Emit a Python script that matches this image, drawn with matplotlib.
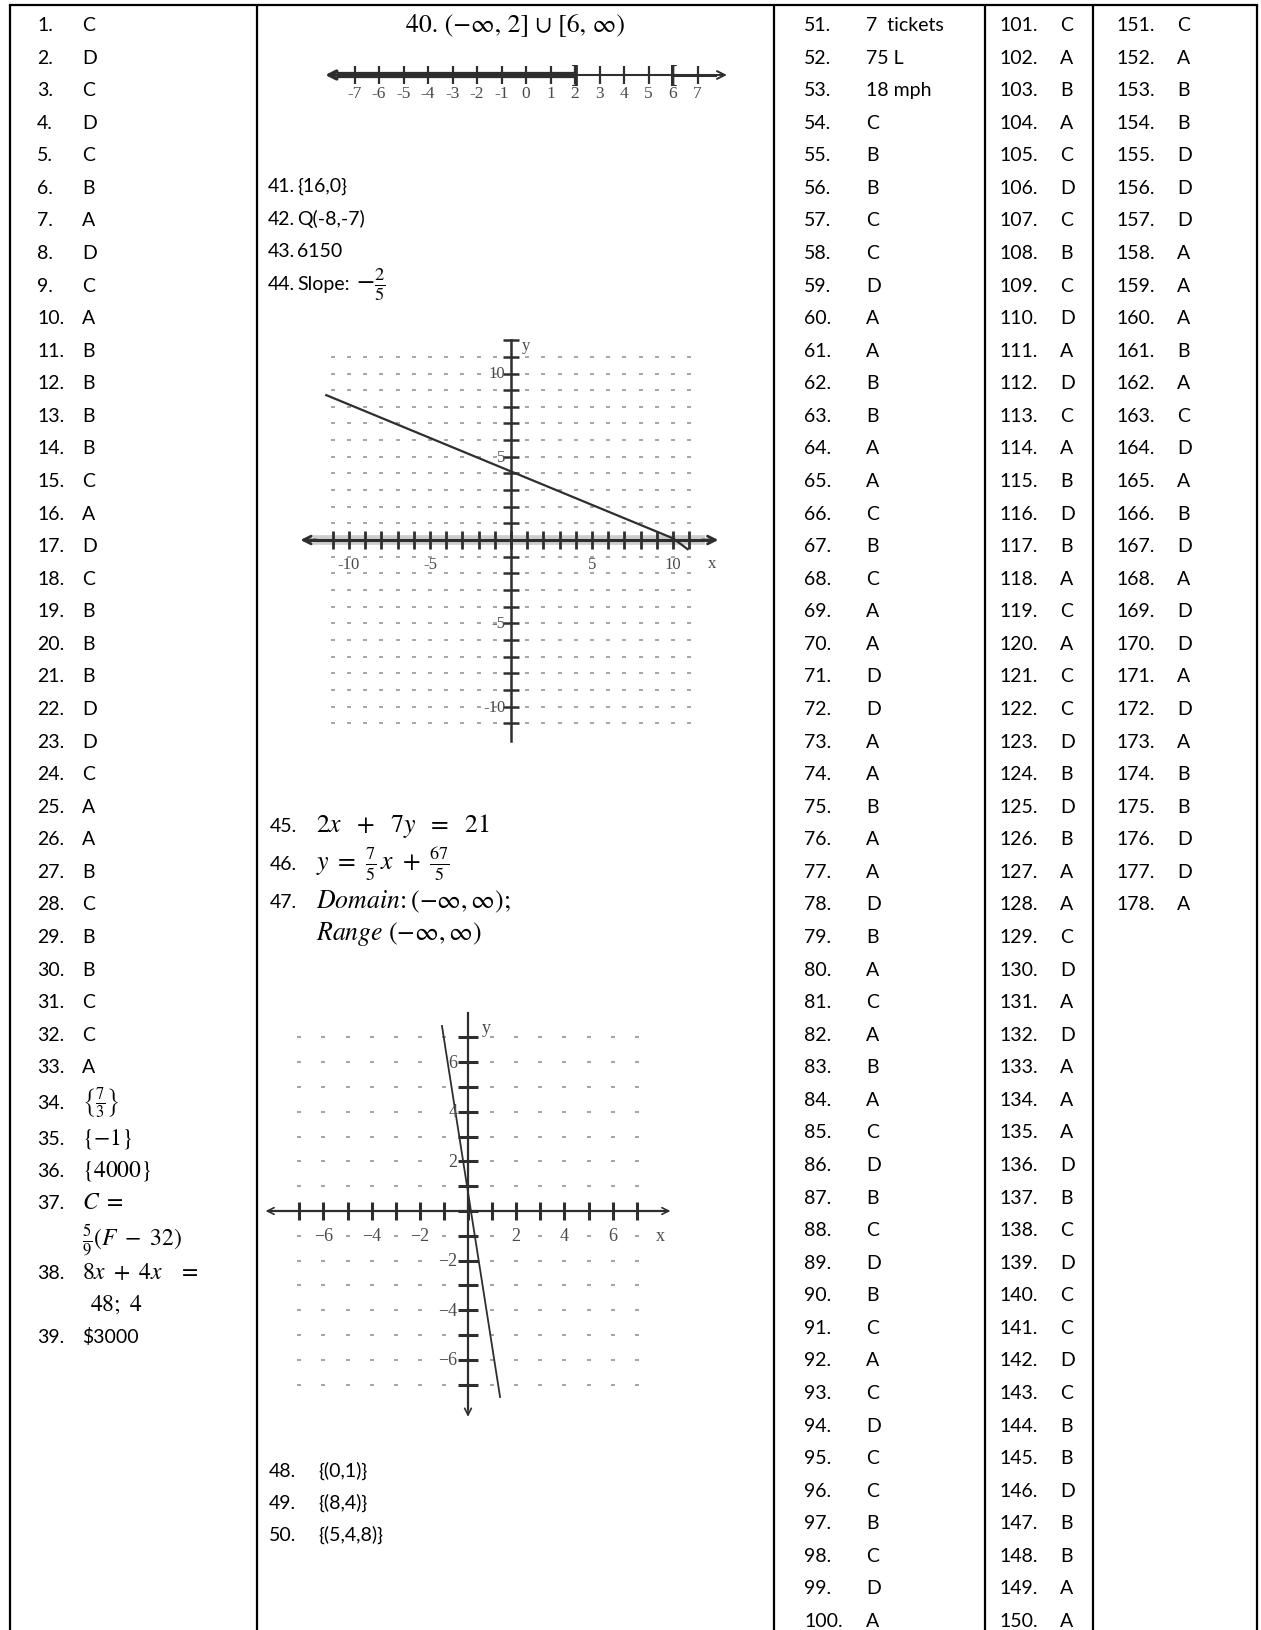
import numpy as np
import matplotlib.pyplot as plt

plt.rcParams['mathtext.fontset'] = 'stix'

W, H = 1261, 1631
SANS = 'Lato'
SERIF = 'Liberation Serif'

# answers, column by column
col1_answers = ["C", "D", "C", "D", "C", "B", "A", "D", "C", "A", "B", "B", "B", "B", "C", "A",
                "D", "C", "B", "B", "B", "D", "D", "C", "A", "A", "B", "C", "B", "B", "C", "C", "A"]
col1_extra_labels = ["34.", "35.", "36.", "37.", "", "38.", "", "39."]
col1_extra_texts = [r"$\left\{\frac{7}{3}\right\}$", r"$\{-1\}$", r"$\{4000\}$", r"$C\ =$",
                    r"$\frac{5}{9}(F\ -\ 32)$", r"$8x\ +\ 4x\ \ \ =$", r"$48;\ 4$", r"\$3000"]

col2_labels = ["41.", "42.", "43.", "44."]
col2_texts = ["{16,0}", "Q(-8,-7)", "6150", "Slope:"]
col2_eq_labels = ["45.", "46.", "47.", ""]
col2_eq_texts = [r"$2x\ \ +\ \ 7y\ \ =\ \ 21$", r"$y\ =\ \frac{7}{5}\,x\ +\ \frac{67}{5}$",
                 r"$Domain\!:(-\infty,\infty);$", r"$Range\ (-\infty,\infty)$"]
col2_sys_labels = ["48.", "49.", "50."]
col2_sys_texts = ["{(0,1)}", "{(8,4)}", "{(5,4,8)}"]

col3_answers = ["7  tickets", "75 L", "18 mph", "C", "B", "B", "C", "C", "D", "A", "A", "B", "B", "A",
                "A", "C", "B", "C", "A", "A", "D", "D", "A", "A", "B", "A", "A", "D", "B", "A", "C",
                "A", "B", "A", "C", "D", "B", "C", "D", "B", "C", "A", "C", "D", "C", "C", "B", "C",
                "D", "A"]
col4_answers = ["C", "A", "B", "A", "C", "D", "C", "B", "C", "D", "A", "D", "C", "A", "B", "D", "B",
                "A", "C", "A", "C", "C", "D", "B", "D", "B", "A", "A", "C", "D", "A", "D", "A", "A",
                "A", "D", "B", "C", "D", "C", "C", "D", "C", "B", "B", "D", "B", "B", "A", "A"]
col5_answers = ["C", "A", "B", "B", "D", "D", "D", "A", "A", "A", "B", "A", "C", "D", "A", "B", "D",
                "A", "D", "D", "A", "D", "A", "B", "B", "D", "D", "A"]

# number line for 40
nl_ticks = list(range(-7, 8))
nl_closed_left = 2
nl_closed_right = 6

# graph for 44: slope -2/5
g1_line_x = [-11.4, 10.0, 10.9]
g1_line_y = [8.7, 0.1, -0.55]
g1_xlabels = [-10, -5, 5, 10]
g1_ylabels = [10, 5, -5, -10]

# graph for 47
g2_line_x = [-1.08, 1.33]
g2_line_y = [7.46, -7.5]
g2_labels = [-6, -4, -2, 2, 4, 6]

fig = plt.figure(figsize=(W / 100, H / 100), dpi=100)
ax = fig.add_axes([0, 0, 1, 1])
ax.set_xlim(0, W)
ax.set_ylim(H, 0)
ax.axis('off')

# table borders
col_edges = [10, 257, 774, 985, 1093, 1257]
ax.plot([col_edges[0], col_edges[-1]], [6, 6], color='black', lw=1.6)
ax.vlines(col_edges, 6, H, color='black', lw=1.6)

ROW0, PITCH, CAP = 24, 32.57, 7
FS = 14


def row_text(x_num, x_ans, y, num, ans, math=False, mfs=16):
    ax.text(x_num, y + CAP, num, family=SANS, fontsize=FS, va='baseline')
    if math:
        ax.text(x_ans, y + CAP, ans, fontsize=mfs, va='baseline')
    else:
        ax.text(x_ans, y + CAP, ans, family=SANS, fontsize=FS, va='baseline')


for i, a in enumerate(col1_answers):
    row_text(37, 82, ROW0 + PITCH * i, f"{i + 1}.", a)

extra_y = [1102, 1138, 1170, 1202, 1238, 1272, 1304, 1336]
extra_x = [82, 82, 82, 82, 82, 82, 90, 82]
for lab, txt, y, x in zip(col1_extra_labels, col1_extra_texts, extra_y, extra_x):
    row_text(37, x, y, lab, txt, math=txt.startswith("$"), mfs=17)

for i, a in enumerate(col3_answers):
    row_text(804, 866, ROW0 + PITCH * i, f"{i + 51}.", a)
for i, a in enumerate(col4_answers):
    row_text(999, 1060, ROW0 + PITCH * i, f"{i + 101}.", a)
for i, a in enumerate(col5_answers):
    row_text(1116, 1177, ROW0 + PITCH * i, f"{i + 151}.", a)

# column 2 text
ax.text(515, ROW0 + CAP, "40. (−∞, 2] ∪ [6, ∞)", family='STIXGeneral', fontsize=18.5,
        ha='center', va='baseline')
for i, (lab, txt) in enumerate(zip(col2_labels, col2_texts)):
    row_text(268, 297, 185 + PITCH * i, lab, txt)
ax.text(356, 185 + PITCH * 3 + CAP, r"$-\frac{2}{5}$", fontsize=19, va='baseline')

for lab, txt, y in zip(col2_eq_labels, col2_eq_texts, [825, 863, 901, 933]):
    row_text(270, 316, y, lab, txt, math=True, mfs=18.5)
for lab, txt, y in zip(col2_sys_labels, col2_sys_texts, [1470, 1502, 1534]):
    row_text(269, 318, y, lab, txt)


def inset(cx, cy, ux, uy, xlim, ylim):
    left = (cx + xlim[0] * ux) / W
    right = (cx + xlim[1] * ux) / W
    top_px = cy - ylim[1] * uy
    bot_px = cy - ylim[0] * uy
    a = fig.add_axes([left, 1 - bot_px / H, right - left, (bot_px - top_px) / H])
    a.set_xlim(xlim)
    a.set_ylim(ylim)
    a.axis('off')
    return a


INK = '#2e2e2e'
GREY = '#4a4a4a'
DOT = '#a6a6a6'


def arrow(a, x0, y0, x1, y1, lw=1.6, ms=14):
    a.annotate('', xy=(x1, y1), xytext=(x0, y0),
               arrowprops=dict(arrowstyle='->', lw=lw, color=INK, mutation_scale=ms,
                               shrinkA=0, shrinkB=0))


# number line (40)
nl = inset(526, 76, 24.5, 24.5, (-8.6, 8.6), (-1.6, 1.2))
nl.plot([-7.7, nl_closed_left], [0, 0], color=INK, lw=4.5, solid_capstyle='butt')
nl.plot([nl_closed_left, nl_closed_right], [0, 0], color=INK, lw=1.5)
nl.plot([nl_closed_right, 7.7], [0, 0], color=INK, lw=2.2)
nl.vlines(nl_ticks, -0.35, 0.35, color=INK, lw=1.6)
arrow(nl, -7.2, 0, -8.2, 0, lw=2.5)
arrow(nl, 7.2, 0, 8.2, 0, lw=1.4)
nl.text(nl_closed_left, 0, "]", family=SERIF, fontsize=19, fontweight='bold', color=INK,
        ha='center', va='center')
nl.text(nl_closed_right, 0, "[", family=SERIF, fontsize=19, fontweight='bold', color=INK,
        ha='center', va='center')
for t in nl_ticks:
    nl.text(t, -0.72, str(t), family=SERIF, fontsize=12.5, color=GREY, ha='center', va='center')

# graph 1 (44)
g1 = inset(511, 541, 16.2, 16.65, (-13.5, 13.5), (-12.8, 12.8))
gx, gy = np.meshgrid(np.arange(-11, 12), np.arange(-11, 12))
keep = (gx != 0) & (gy != 0)
g1.plot(gx[keep], gy[keep], ls='none', marker='_', ms=2.6, mew=1.4, color=DOT)
g1.plot([-12.2, 12.0], [0, 0], color='#cdcdcd', lw=7, solid_capstyle='butt')
g1.plot([-12.6, 12.4], [0, 0], color=INK, lw=2.2)
arrow(g1, -12.0, 0, -13.0, 0, lw=2)
arrow(g1, 11.8, 0, 12.8, 0, lw=2)
g1.vlines(np.arange(-11, 12), -0.55, 0.55, color=INK, lw=2)
g1.plot([0, 0], [-12.1, 12.0], color=INK, lw=1.8)
g1.hlines(np.arange(-11, 13), -0.5, 0.5, color=INK, lw=1.8)
for v in g1_ylabels:
    g1.text(-0.35, v, str(v), family=SERIF, fontsize=12, color=GREY, ha='right', va='center')
for v in g1_xlabels:
    g1.text(v, -1.45, str(v), family=SERIF, fontsize=12, color=GREY, ha='center', va='center')
g1.text(12.4, -1.4, "x", family=SERIF, fontsize=12, color=GREY, ha='center', va='center')
g1.text(0.9, 11.7, "y", family=SERIF, fontsize=12, color=GREY, ha='center', va='center')
g1.plot(g1_line_x, g1_line_y, color=INK, lw=1.6)

# graph 2 (47)
g2 = inset(468, 1212, 24.1, 24.8, (-8.8, 8.8), (-8.6, 8.6))
gx, gy = np.meshgrid(np.arange(-7, 8), np.arange(-7, 8))
keep = (gx != 0) & (gy != 0) & ~((gy == -1) & (gx % 2 == 0)) & ~((gx == -1) & (gy % 2 == 0))
g2.plot(gx[keep], gy[keep], ls='none', marker='_', ms=2.8, mew=1.5, color=DOT)
g2.plot([-8.2, 8.2], [0, 0], color=INK, lw=1.6)
arrow(g2, -7.6, 0, -8.4, 0, lw=1.2, ms=12)
arrow(g2, 7.6, 0, 8.4, 0, lw=1.2, ms=12)
g2.vlines(np.arange(-7, 8), -0.35, 0.35, color=INK, lw=2.2)
g2.plot([0, 0], [-8.0, 8.0], color=INK, lw=1.6)
arrow(g2, 0, -7.6, 0, -8.3, lw=1.2, ms=12)
g2.hlines(np.arange(-7, 8), -0.4, 0.4, color=INK, lw=2.2)
for v in g2_labels:
    g2.text(v, -1, str(v).replace('-', '−'), family=SERIF, fontsize=13, color=GREY,
            ha='center', va='center')
    g2.text(-0.45, v, str(v).replace('-', '−'), family=SERIF, fontsize=13, color=GREY,
            ha='right', va='center')
g2.text(8.0, -1, "x", family=SERIF, fontsize=13, color=GREY, ha='center', va='center')
g2.text(0.75, 7.4, "y", family=SERIF, fontsize=13, color=GREY, ha='center', va='center')
g2.plot(g2_line_x, g2_line_y, color=INK, lw=1.3)

fig.savefig("out.png", dpi=100)
